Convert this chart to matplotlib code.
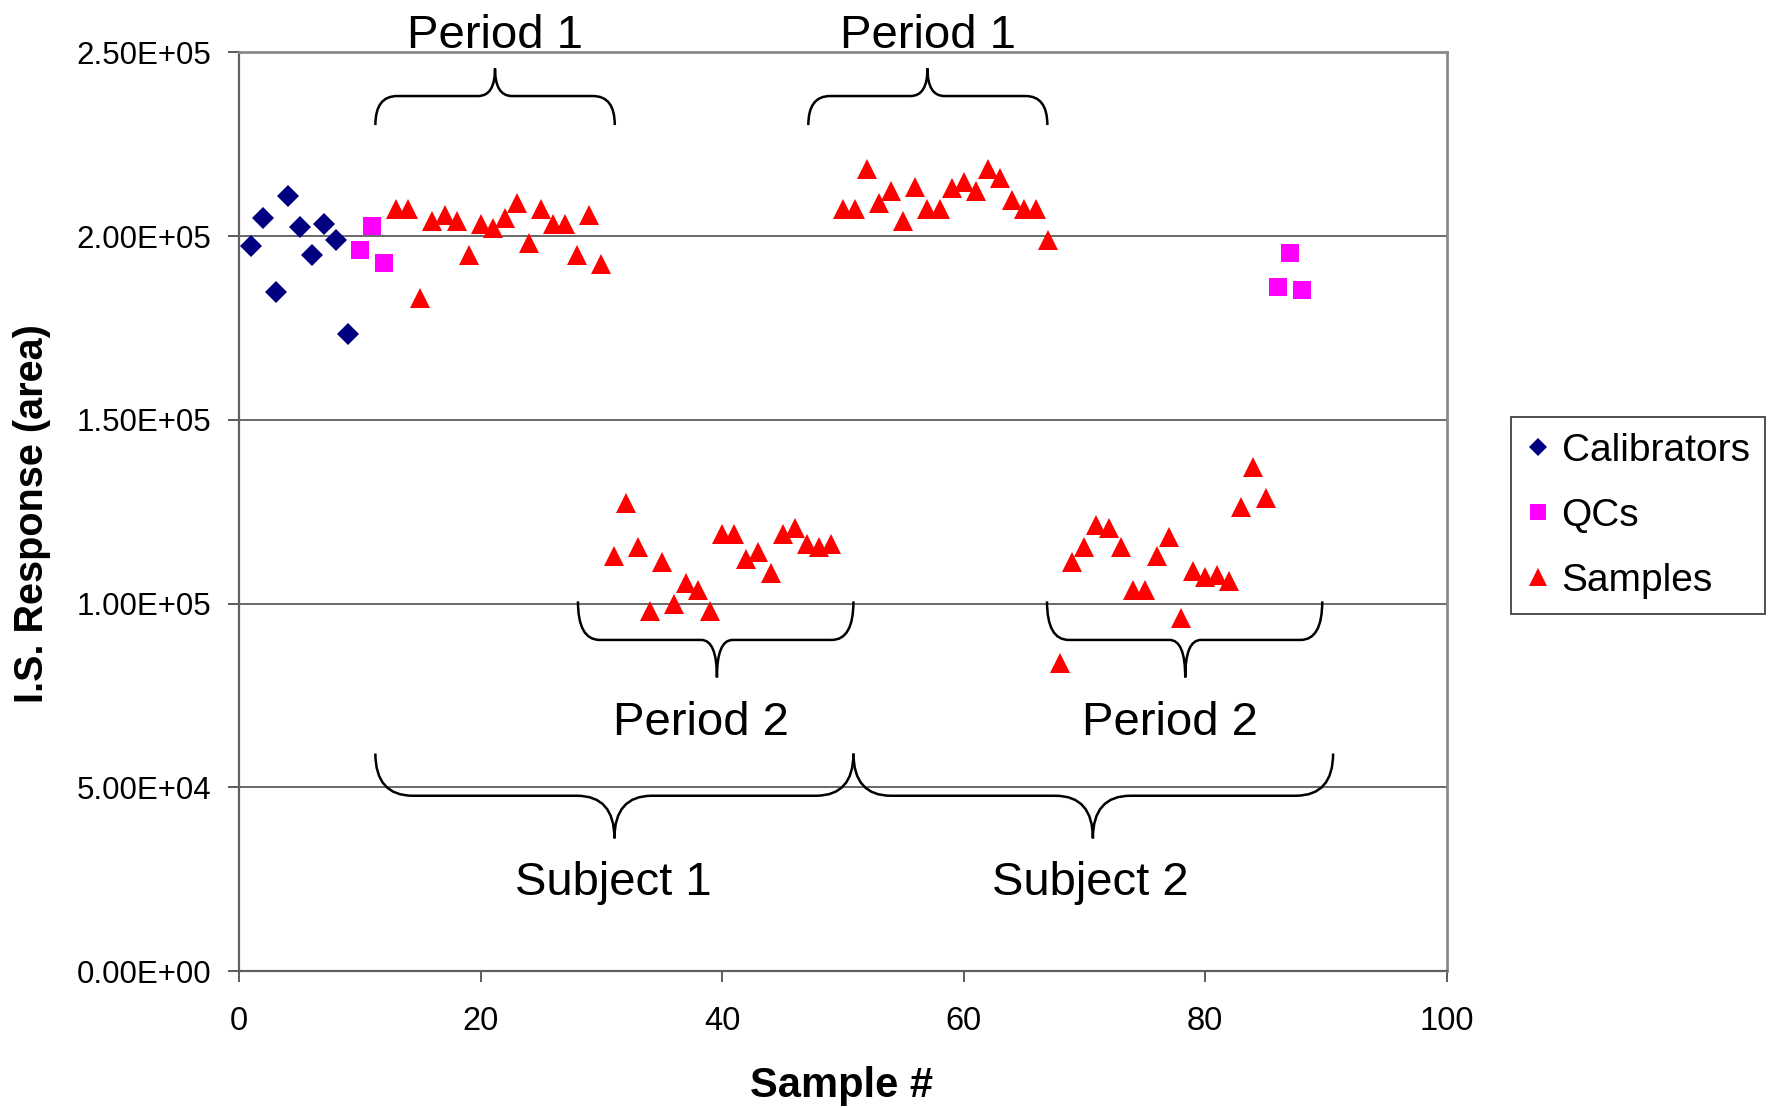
import numpy as np
import matplotlib.pyplot as plt
from matplotlib.path import Path
from matplotlib.patches import PathPatch
from matplotlib.ticker import FuncFormatter

plt.rcParams['font.family'] = ['Liberation Sans', 'DejaVu Sans']

# calibrators and QCs
cal_x = [1, 2, 3, 4, 5, 6, 7, 8, 9]
cal_y = [197400, 204900, 184800, 210800, 202400, 194800, 203300, 198900, 173300]
qc_x = [10, 11, 12, 86, 87, 88]
qc_y = [196200, 202700, 192800, 186200, 195300, 185200]

# samples: subject 1 period 1, subject 1 period 2, subject 2 period 1, subject 2 period 2
s1p1_y = [207300, 207300, 183200, 204100, 205700, 204100, 194800, 203200, 202300,
          204900, 209100, 198200, 207400, 203200, 203200, 194800, 205700, 192300]
s1p2_y = [113000, 127300, 115400, 98000, 111400, 99800, 105500, 103800, 97900,
          119000, 119000, 112100, 113900, 108200, 118900, 120600, 116300, 115400, 116300]
s2p1_y = [207300, 207300, 218200, 209100, 212300, 204100, 213300, 207300, 207300,
          213200, 214800, 212300, 218200, 215700, 209900, 207300, 207300, 198900]
s2p2_y = [83700, 111200, 115400, 121400, 120500, 115400, 103700, 103700, 113000,
          118000, 96200, 108800, 107100, 107900, 106200, 126400, 137200, 128800]
sample_y = s1p1_y + s1p2_y + s2p1_y + s2p2_y
sample_x = list(range(13, 13 + len(sample_y)))

fig = plt.figure(figsize=(17.7, 11.08), dpi=100)
ax = fig.add_axes([0.1352, 0.1236, 0.6821, 0.8292])

ax.plot(cal_x, cal_y, ls='none', marker='D', ms=10.7, mew=0, color='#000080',
        label='Calibrators', zorder=3)
ax.plot(qc_x, qc_y, ls='none', marker='s', ms=13, mew=0, color='#FF00FF',
        label='QCs', zorder=3)
ax.plot(sample_x, sample_y, ls='none', marker='^', ms=15, mew=0, color='#FF0000',
        label='Samples', zorder=3)


def brace(ax, x0, x1, xt, y_end, y_mid, y_tip, rx, rt):
    # curly brace: ends at y_end, flat part at y_mid, point at (xt, y_tip)
    verts = [(x0, y_end), (x0, y_mid), (x0 + rx, y_mid),
             (xt - rt, y_mid), (xt, y_mid), (xt, y_tip),
             (xt, y_mid), (xt + rt, y_mid),
             (x1 - rx, y_mid), (x1, y_mid), (x1, y_end)]
    codes = [Path.MOVETO, Path.CURVE3, Path.CURVE3,
             Path.LINETO, Path.CURVE3, Path.CURVE3,
             Path.CURVE3, Path.CURVE3,
             Path.LINETO, Path.CURVE3, Path.CURVE3]
    ax.add_patch(PathPatch(Path(verts, codes), fill=False, lw=1.8,
                           edgecolor='black', clip_on=False, zorder=4))


# period 1 braces (tip up)
brace(ax, 11.27, 31.1, 21.18, 230200, 238100, 245600, 1.8, 1.4)
brace(ax, 47.13, 66.93, 57.0, 230200, 238100, 245600, 1.8, 1.4)
# period 2 braces (tip down)
brace(ax, 28.05, 50.87, 39.56, 100600, 90100, 79900, 1.8, 1.3)
brace(ax, 66.9, 89.7, 78.35, 100600, 90100, 79900, 1.8, 1.3)
# subject braces
brace(ax, 11.27, 50.87, 31.07, 59200, 47700, 36100, 3.1, 3.1)
brace(ax, 50.87, 90.6, 70.7, 59200, 47700, 36100, 3.1, 3.1)

txt = dict(fontsize=34, ha='center', va='baseline', clip_on=False)
ax.text(21.2, 251100, 'Period 1', **txt)
ax.text(57.0, 251100, 'Period 1', **txt)
ax.text(38.2, 64200, 'Period 2', **txt)
ax.text(77.06, 64200, 'Period 2', **txt)
ax.text(30.95, 20700, 'Subject 1', **txt)
ax.text(70.5, 20700, 'Subject 2', **txt)

ax.set_xlim(0, 100)
ax.set_ylim(0, 250000)
ax.set_xticks(np.arange(0, 101, 20))
ax.set_yticks(np.arange(0, 250001, 50000))
ax.yaxis.set_major_formatter(FuncFormatter(lambda v, p: '{:.2E}'.format(v)))
ax.tick_params(axis='y', labelsize=22.5, length=8, width=1.2, pad=12, color='#404040')
ax.tick_params(axis='x', labelsize=23.5, length=8, width=1.2, pad=17, color='#404040')
ax.grid(axis='y', color='#404040', lw=1.1)
ax.set_axisbelow(True)

for side in ['left', 'bottom']:
    ax.spines[side].set_color('#606060')
    ax.spines[side].set_linewidth(1.6)
for side in ['top', 'right']:
    ax.spines[side].set_color('#8a8a8a')
    ax.spines[side].set_linewidth(2)

fig.text(0.4757, 0.0198, 'Sample #', fontsize=30, fontweight='bold', ha='center', va='center')
fig.text(0.0179, 0.5365, 'I.S. Response (area)', fontsize=28.5, fontweight='bold',
         ha='center', va='center', rotation=90)

leg = ax.legend(loc='upper left', bbox_to_anchor=(0.8537, 0.6236),
                bbox_transform=fig.transFigure, borderaxespad=0, fontsize=28,
                fancybox=False, edgecolor='#404040', framealpha=1,
                handlelength=0.6, handletextpad=0.3, labelspacing=0.75,
                borderpad=0.4, markerscale=0.85)
leg.get_frame().set_linewidth(1.3)

fig.savefig('out.png', dpi=100)
